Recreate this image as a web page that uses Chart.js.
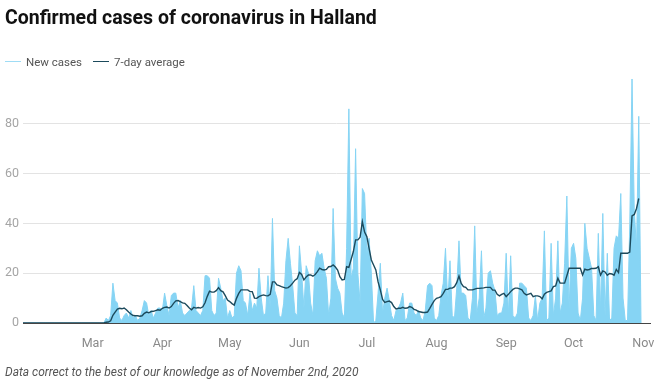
<!DOCTYPE html>
<html><head><meta charset="utf-8">
<script src="https://cdn.jsdelivr.net/npm/chart.js@4.4.0/dist/chart.umd.min.js"></script>
<style>
html,body{margin:0;padding:0;background:#fff;width:660px;height:383px;overflow:hidden;font-family:Roboto,"Open Sans",sans-serif}
#title{position:absolute;left:5px;top:6px;font-size:19.5px;font-weight:700;color:#111;line-height:24px;white-space:nowrap}
#legend{position:absolute;left:5px;top:54px;font-size:11.5px;color:#555;line-height:16px;white-space:nowrap}
#legend span.item{margin-right:11px}
.sw{display:inline-block;width:16px;height:0;border-top:1.5px solid;vertical-align:middle;margin-right:5px;position:relative;top:-1px}
#footer{position:absolute;left:5px;top:364px;font-size:12px;font-style:italic;color:#555;line-height:16px;white-space:nowrap}
#wrap{position:absolute;left:0;top:0;width:660px;height:383px}
</style></head>
<body>
<div id="wrap"><canvas id="c" width="660" height="383"></canvas></div>
<div id="title">Confirmed cases of coronavirus in Halland</div>
<div id="legend"><span class="item"><span class="sw" style="border-color:#9fdcf5"></span>New cases</span><span class="item"><span class="sw" style="border-color:#1c4a5c"></span>7-day average</span></div>
<div id="footer">Data correct to the best of our knowledge as of November 2nd, 2020</div>
<script>
// Daily new cases, Jan 30 - Feb 29 then month by month
const feb = [0,0,0,0,0,0,0,0,0,0,0,0,0,0,0,0,0,0,0,0,0,0,0,0,0,0,0,0,0,0,0];
const mar = [0,0,0,0,0,0,2,1,3,16,9,8,2,1,3,4,2,5,2,3,1,2,5,9,8,3,5,2,4,6,6];
const apr = [5,12,7,3,11,12,12,6,9,4,3,4,5,6,15,5,4,3,5,19,19,18,5,3,4,18,14,9,10,2];
const may = [5,2,3,20,23,21,9,8,3,12,5,8,6,22,10,3,4,19,6,42,13,10,3,2,8,25,34,24,15,4,3];
const jun = [31,20,6,23,20,8,3,25,29,27,28,22,18,3,10,46,18,14,12,4,2,30,86,18,22,70,20,8,54,52];
const jul = [28,34,20,0,1,12,24,4,10,14,9,3,1,5,6,8,12,1,2,8,8,4,3,5,2,1,5,15,16,15,2];
const aug = [1,3,11,16,30,8,25,3,2,14,33,12,12,11,2,1,10,39,4,10,29,2,6,20,21,16,13,3,4,4,8];
const sep = [28,3,27,3,2,4,16,16,15,14,2,1,3,11,1,8,10,37,1,2,32,3,10,33,4,8,24,51,6,30];
const oct = [32,26,4,1,10,40,30,26,22,3,1,36,5,44,3,28,1,2,30,35,34,52,10,1,1,40,98,45,30,83,0];

// 7-day average
const febAvg = [0,0,0,0,0,0,0,0,0,0,0,0,0,0,0,0,0,0,0,0,0,0,0,0,0,0,0,0,0,0,0];
const marAvg = [0,0,0,0,0,0,0.3,0.4,0.9,3.1,4.4,5.6,5.9,5.7,6.0,5.3,4.4,3.6,3.0,2.9,2.9,2.7,2.9,3.9,4.4,4.1,4.6,4.7,5.0,5.3,5.1];
const aprAvg = [5.9,6.3,6.4,6.0,6.6,7.9,8.9,9.0,8.6,8.1,7.9,7.0,6.0,5.3,6.3,6.0,6.2,6.0,6.5,8.1,10.7,12.8,12.4,12.4,13.0,14.2,13.0,12.5,11.0,9.2];
const mayAvg = [8.6,7.8,7.2,9.9,11.9,13.3,13.3,13.3,13.3,12.6,12.6,10.0,9.9,10.6,11.0,11.3,11.0,10.9,11.5,16.5,16.5,15.3,15.0,14.6,14.3,14.0,14.2,15.0,16.0,17.2,17.8];
const junAvg = [20.3,19.5,17.3,18.5,19.3,19.3,18.8,19.5,20.6,22.0,21.5,21.3,21.5,22.6,22.7,23.3,22.5,21.3,18.6,17.3,17.5,22.6,22.3,25.5,28.7,33.4,33.4,34.5,40.7,36.5];
const julAvg = [34.7,30.0,25.3,23.3,21.3,16.5,13.3,9.5,8.3,8.6,8.8,8.2,6.6,5.6,5.9,5.9,6.3,5.9,6.0,6.6,6.3,5.5,5.2,4.6,4.4,4.2,4.2,4.4,5.9,7.5,9.0];
const augAvg = [9.9,10.2,10.6,11.9,13.5,13.5,14.0,14.0,14.6,16.2,18.9,15.9,14.6,14.3,13.3,13.3,13.3,13.6,13.9,13.9,14.0,14.1,14.3,14.3,14.3,13.2,13.2,11.5,10.9,11.5,11.9];
const sepAvg = [10.6,11.5,12.6,13.5,14.0,14.0,13.7,13.3,11.9,11.3,11.6,11.9,10.6,10.9,10.9,10.6,9.7,11.6,12.3,12.6,12.9,14.6,14.9,18.0,16.0,16.0,16.0,19.0,22.0,22.0];
const octAvg = [22.0,22.0,22.0,22.0,19.3,21.6,21.3,21.5,21.9,21.9,22.0,22.6,19.2,20.9,20.5,19.2,19.9,19.7,19.2,21.5,20.2,28.0,28.0,28.0,28.0,28.5,43.0,43.6,46.0,50.0,null];

// x tick labels (month starts, as day numbers from Jan 30)
const monthLabels = ["Mar","Apr","May","Jun","Jul","Aug","Sep","Oct","Nov"];
const monthStarts = [31,62,92,123,153,184,215,245,276];
const yTicks = [0,20,40,60,80];

const newCases = [].concat(feb,mar,apr,may,jun,jul,aug,sep,oct);
const avg = [].concat(febAvg,marAvg,aprAvg,mayAvg,junAvg,julAvg,augAvg,sepAvg,octAvg);

const axisFont = {family:"Roboto", size:12.5};

new Chart(document.getElementById('c'), {
  type:'line',
  data:{
    datasets:[
      {label:'7-day average', data:avg.map((v,i)=>({x:i,y:v})), borderColor:'#1c4a5c', borderWidth:1.4, pointRadius:0, tension:0, fill:false, order:0, spanGaps:false},
      {label:'New cases', data:newCases.map((v,i)=>({x:i,y:v})), borderColor:'#86d4f4', backgroundColor:'#86d4f4', borderWidth:1, pointRadius:0, tension:0, fill:'origin', order:1}
    ]
  },
  options:{
    responsive:false, animation:false, devicePixelRatio:1,
    layout:{padding:{top:74, right:10, bottom:0, left:0}},
    plugins:{legend:{display:false}, tooltip:{enabled:false}},
    scales:{
      x:{type:'linear', min:0, max:279,
        grid:{display:false},
        border:{display:true, color:'#444', width:1, z:1},
        afterBuildTicks:(s)=>{s.ticks = monthStarts.map(v=>({value:v}));},
        afterFit:(s)=>{s.height = 60;},
        ticks:{autoSkip:false, maxRotation:0, color:'#8a8a8a', font:axisFont, padding:5,
          callback:(v)=>{const k=monthStarts.indexOf(v); return k>=0?monthLabels[k]:'';}}
      },
      y:{type:'linear', min:0, max:100,
        afterBuildTicks:(s)=>{s.ticks = yTicks.map(v=>({value:v}));},
        afterFit:(s)=>{s.width = 23;},
        grid:{color:'#e3e3e3', lineWidth:1, drawTicks:false},
        border:{display:false},
        ticks:{color:'#a5a5a5', font:axisFont, padding:4}
      }
    }
  }
});
</script>
</body></html>
